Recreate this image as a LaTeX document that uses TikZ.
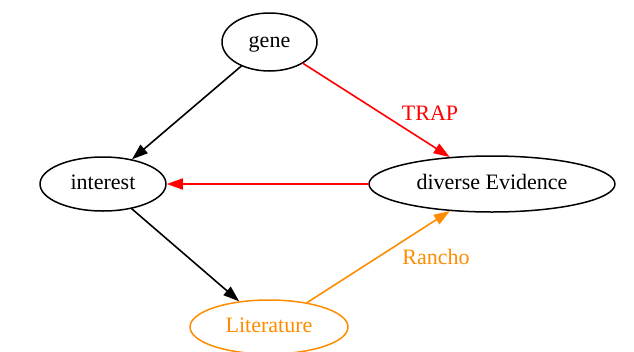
\documentclass[tikz,border=0pt]{standalone}
\usepackage{fontspec}
\setmainfont{Liberation Serif}
\usetikzlibrary{shapes.geometric,arrows.meta}
\definecolor{darkorange}{RGB}{255,140,0}
\begin{document}
\begin{tikzpicture}[x=1pt, y=-1pt, font=\fontsize{22}{26}\selectfont, line join=round, line cap=round, >={Triangle[length=16pt,width=11pt]},
	vertex/.style={draw, ellipse, line width=1.5pt, inner sep=0pt, text height=2.4ex, text depth=0pt},
	link/.style={->, line width=1.6pt}]
			\useasboundingbox (0,0) rectangle (634,351);
			\node[vertex, minimum width=95pt, minimum height=58pt] (gene) at (269.5,42) {gene};
			\node[vertex, minimum width=126pt, minimum height=54pt] (interest) at (103,184) {interest};
			\node[vertex, minimum width=246pt, minimum height=56pt] (evid) at (492,184) {diverse Evidence};
			\node[vertex, darkorange, minimum width=158pt, minimum height=54pt] (lit) at (269,327) {Literature};
			\draw[link] (gene) -- (interest);
			\draw[link, red] (gene) -- (evid);
			\draw[link, red] (evid) -- (interest);
			\draw[link] (interest) -- (lit);
			\draw[link, darkorange] (lit) -- (evid);
			\node[red] (trap) at (430,113) {TRAP};
			\node[darkorange] (rancho) at (436,257) {Rancho};
	\end{tikzpicture}
\end{document}
